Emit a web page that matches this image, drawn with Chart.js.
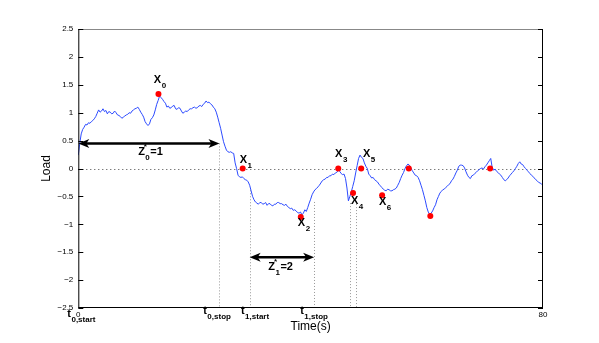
<!DOCTYPE html>
<html>
<head>
<meta charset="utf-8">
<script src="https://cdn.jsdelivr.net/npm/chart.js@4/dist/chart.umd.min.js"></script>
<style>
  html, body { margin: 0; padding: 0; background: #fff; }
  #wrap { width: 599px; height: 343px; }
</style>
</head>
<body>
<div id="wrap"><canvas id="chart" width="599" height="343"></canvas></div>
<script>
// load trace, read every 0.25 s
var times = [];
for (var i = 0; i <= 320; i++) times.push(i * 0.25);
var loads = [
  0.24, 0.45, 0.62, 0.70, 0.74, 0.79, 0.78, 0.82, 0.81, 0.84,
  0.86, 0.89, 0.93, 0.99, 1.05, 1.01, 1.03, 1.07, 1.02, 1.04,
  0.98, 1.02, 1.01, 0.98, 0.99, 1.03, 1.00, 0.96, 0.95, 0.93,
  0.90, 0.92, 0.94, 0.96, 0.97, 1.00, 0.99, 1.03, 1.05, 1.07,
  1.08, 1.10, 1.06, 1.01, 0.97, 0.92, 0.84, 0.80, 0.77, 0.80,
  0.88, 0.91, 0.96, 1.05, 1.15, 1.22, 1.30, 1.27, 1.24, 1.20,
  1.17, 1.10, 1.12, 1.08, 1.09, 1.12, 1.13, 1.07, 1.06, 1.09,
  1.08, 1.03, 0.99, 1.01, 1.03, 1.02, 1.05, 1.07, 1.07, 1.09,
  1.10, 1.08, 1.09, 1.12, 1.13, 1.11, 1.15, 1.17, 1.21, 1.18,
  1.19, 1.16, 1.14, 1.10, 1.07, 1.01, 0.92, 0.82, 0.72, 0.60,
  0.48, 0.40, 0.33, 0.30, 0.29, 0.30, 0.28, 0.27, 0.10, 0.00,
  -0.12, -0.15, -0.16, -0.15, -0.18, -0.20, -0.21, -0.24, -0.30, -0.40,
  -0.50, -0.56, -0.60, -0.62, -0.64, -0.61, -0.61, -0.64, -0.63, -0.61,
  -0.66, -0.63, -0.63, -0.66, -0.67, -0.64, -0.64, -0.61, -0.61, -0.63,
  -0.63, -0.65, -0.66, -0.64, -0.68, -0.70, -0.72, -0.71, -0.75, -0.74,
  -0.76, -0.79, -0.80, -0.78, -0.83, -0.80, -0.74, -0.77, -0.70, -0.62,
  -0.55, -0.47, -0.42, -0.38, -0.36, -0.33, -0.30, -0.26, -0.22, -0.20,
  -0.19, -0.16, -0.16, -0.13, -0.13, -0.10, -0.11, -0.08, -0.07, -0.03,
  -0.05, -0.09, -0.11, -0.10, -0.18, -0.35, -0.58, -0.50, -0.42, -0.32,
  -0.22, -0.08, 0.05, 0.18, 0.24, 0.20, 0.18, 0.10, 0.04, 0.00,
  -0.10, -0.13, -0.17, -0.16, -0.20, -0.22, -0.24, -0.28, -0.31, -0.34,
  -0.37, -0.39, -0.40, -0.37, -0.38, -0.40, -0.40, -0.38, -0.37, -0.35,
  -0.30, -0.25, -0.18, -0.12, -0.07, 0.00, 0.05, 0.08, 0.06, 0.01,
  -0.04, -0.08, -0.12, -0.13, -0.16, -0.22, -0.30, -0.38, -0.48, -0.58,
  -0.70, -0.78, -0.82, -0.80, -0.76, -0.70, -0.65, -0.56, -0.50, -0.44,
  -0.41, -0.38, -0.37, -0.34, -0.32, -0.29, -0.27, -0.22, -0.19, -0.14,
  -0.08, -0.03, 0.04, 0.06, 0.06, 0.05, 0.01, -0.06, -0.12, -0.16,
  -0.18, -0.13, -0.12, -0.09, -0.07, -0.04, -0.02, 0.00, 0.01, -0.01,
  0.03, 0.06, 0.10, 0.14, 0.18, 0.02, -0.03, -0.01, -0.05, -0.07,
  -0.10, -0.12, -0.16, -0.20, -0.22, -0.20, -0.17, -0.13, -0.10, -0.07,
  -0.04, 0.00, 0.04, 0.09, 0.12, 0.08, 0.07, 0.03, 0.00, -0.03,
  -0.06, -0.09, -0.12, -0.14, -0.17, -0.20, -0.22, -0.25, -0.26, -0.28,
  -0.30
];

// red markers and their X labels
var eventTimes = [13.8, 28.3, 38.3, 44.75, 47.3, 48.7, 52.3, 56.9, 60.6, 70.9];
var eventLoads = [1.335, 0, -0.87, 0, -0.44, 0, -0.48, 0, -0.85, 0];
var xLabelSubs = ['0', '1', '2', '3', '4', '5', '6'];
var xLabelT = [13.0, 27.8, 37.8, 44.2, 46.95, 49.0, 51.75];
var xLabelV = [1.53, 0.095, -1.03, 0.20, -0.64, 0.20, -0.66];

// phase boundaries
var phaseSubs = ['0,start', '0,stop', '1,start', '1,stop'];
var phaseTimes = [0, 24.3, 29.5, 40.6];
var phaseTops = [null, 0.45, -0.39, -0.60];
var phaseLabelT = [-1.9, 21.5, 28.0, 38.2];
var extraTimes = [46.8, 47.8];
var extraTops = [-0.62, -0.53];

// double arrows
var arrowFrom = [0, 29.5];
var arrowTo = [24.3, 40.6];
var arrowLoad = [0.45, -1.59];
var arrowSub = ['0', '1'];
var arrowText = ['=1', '=2'];
var arrowLabelT = [10.3, 32.7];
var arrowLabelV = [0.238, -1.82];

var xTickValues = [0, 80];

var FONT = '"Liberation Sans", Arial, sans-serif';

function subText(ctx, x, y, main, sub, sup, tail) {
  ctx.font = 'bold 11px ' + FONT;
  ctx.fillText(main, x, y);
  var w = ctx.measureText(main).width;
  ctx.font = 'bold 8px ' + FONT;
  if (sup) ctx.fillText(sup, x + w - 1, y - 6);
  ctx.fillText(sub, x + w + 0.5, y + 5);
  var w2 = ctx.measureText(sub).width;
  if (tail) {
    ctx.font = 'bold 11px ' + FONT;
    ctx.fillText(tail, x + w + w2 + 1, y);
  }
}

function arrowHead(ctx, x, y, dir) {
  ctx.beginPath();
  ctx.moveTo(x, y);
  ctx.lineTo(x - dir * 11, y - 4.5);
  ctx.lineTo(x - dir * 8, y);
  ctx.lineTo(x - dir * 11, y + 4.5);
  ctx.closePath();
  ctx.fill();
}

var overlay = {
  id: 'overlay',
  beforeDatasetsDraw: function(chart) {
    var ctx = chart.ctx, xs = chart.scales.x, ys = chart.scales.y;
    var a = chart.chartArea;
    ctx.save();
    // zero line
    ctx.strokeStyle = '#444';
    ctx.lineWidth = 1;
    ctx.setLineDash([1, 3]);
    ctx.beginPath();
    ctx.moveTo(a.left, Math.round(ys.getPixelForValue(0)) + 0.5);
    ctx.lineTo(a.right, Math.round(ys.getPixelForValue(0)) + 0.5);
    ctx.stroke();
    // vertical markers
    ctx.strokeStyle = '#999';
    ctx.setLineDash([1, 2]);
    var tops = phaseTops.concat(extraTops);
    var ts = phaseTimes.concat(extraTimes);
    for (var i = 0; i < ts.length; i++) {
      if (tops[i] === null) continue;
      var px = Math.round(xs.getPixelForValue(ts[i])) + 0.5;
      ctx.beginPath();
      ctx.moveTo(px, ys.getPixelForValue(tops[i]));
      ctx.lineTo(px, a.bottom);
      ctx.stroke();
    }
    ctx.restore();
  },
  afterDatasetsDraw: function(chart) {
    var ctx = chart.ctx, xs = chart.scales.x, ys = chart.scales.y;
    var a = chart.chartArea;
    ctx.save();
    // axes box with inward ticks
    ctx.setLineDash([]);
    ctx.lineWidth = 1;
    ctx.strokeStyle = '#888';
    ctx.beginPath();
    ctx.moveTo(a.left, a.top + 0.5);
    ctx.lineTo(a.right, a.top + 0.5);
    ctx.stroke();
    ctx.strokeStyle = '#000';
    ctx.beginPath();
    ctx.moveTo(a.right - 0.5, a.top);
    ctx.lineTo(a.right - 0.5, a.bottom);
    ctx.moveTo(a.left, a.bottom - 0.5);
    ctx.lineTo(a.right, a.bottom - 0.5);
    ctx.moveTo(a.left + 0.5, a.top);
    ctx.lineTo(a.left + 0.5, a.bottom);
    ys.ticks.forEach(function(t) {
      var py = Math.round(ys.getPixelForValue(t.value)) + 0.5;
      ctx.moveTo(a.left, py);
      ctx.lineTo(a.left + 5, py);
      ctx.moveTo(a.right, py);
      ctx.lineTo(a.right - 5, py);
    });
    ctx.stroke();

    // arrows
    ctx.fillStyle = '#000';
    ctx.strokeStyle = '#000';
    ctx.lineWidth = 2.5;
    for (var k = 0; k < arrowFrom.length; k++) {
      var x1 = xs.getPixelForValue(arrowFrom[k]);
      var x2 = xs.getPixelForValue(arrowTo[k]);
      var py = ys.getPixelForValue(arrowLoad[k]);
      ctx.beginPath();
      ctx.moveTo(x1 + 6, py);
      ctx.lineTo(x2 - 6, py);
      ctx.stroke();
      arrowHead(ctx, x1, py, -1);
      arrowHead(ctx, x2, py, 1);
      subText(ctx, xs.getPixelForValue(arrowLabelT[k]), ys.getPixelForValue(arrowLabelV[k]),
        'Z', arrowSub[k], '*', arrowText[k]);
    }

    // X labels
    ctx.textBaseline = 'alphabetic';
    for (var j = 0; j < xLabelSubs.length; j++) {
      subText(ctx, xs.getPixelForValue(xLabelT[j]), ys.getPixelForValue(xLabelV[j]), 'X', xLabelSubs[j]);
    }

    // phase labels under the axis
    for (var p = 0; p < phaseSubs.length; p++) {
      subText(ctx, xs.getPixelForValue(phaseLabelT[p]), a.bottom + (p === 0 ? 9 : 6), 't', phaseSubs[p]);
    }
    ctx.restore();
  }
};

new Chart(document.getElementById('chart'), {
  type: 'scatter',
  data: {
    datasets: [
      {
        data: times.map(function(t, i) { return { x: t, y: loads[i] }; }),
        showLine: true,
        borderColor: 'rgb(45,75,255)',
        borderWidth: 1,
        pointRadius: 0,
        tension: 0,
        order: 2
      },
      {
        data: eventTimes.map(function(t, i) { return { x: t, y: eventLoads[i] }; }),
        backgroundColor: '#f00',
        borderWidth: 0,
        pointRadius: 3,
        order: 1
      }
    ]
  },
  options: {
    responsive: false,
    animation: false,
    events: [],
    layout: { padding: { left: 39, right: 56, top: 29, bottom: 0 } },
    plugins: { legend: { display: false }, tooltip: { enabled: false } },
    scales: {
      x: {
        type: 'linear',
        min: 0,
        max: 80,
        afterBuildTicks: function(scale) {
          scale.ticks = xTickValues.map(function(v) { return { value: v }; });
        },
        afterFit: function(scale) { scale.height = 35; },
        grid: { display: false, drawTicks: false },
        border: { display: false },
        ticks: { autoSkip: false, maxRotation: 0, padding: 2, color: '#000', font: { family: FONT, size: 8 } },
        title: { display: true, text: 'Time(s)', color: '#000', font: { family: FONT, size: 12 }, padding: { top: 0, bottom: 9 } }
      },
      y: {
        min: -2.5,
        max: 2.5,
        afterFit: function(scale) { scale.width = 39.3; },
        grid: { display: false, drawTicks: false },
        border: { display: false },
        ticks: { stepSize: 0.5, padding: 5, color: '#000', font: { family: FONT, size: 8 },
          callback: function(v) { return String(v).replace('-', '\u2212'); } },
        title: { display: true, text: 'Load', color: '#000', font: { family: FONT, size: 12 }, padding: { top: 0, bottom: 0 } }
      }
    }
  },
  plugins: [overlay]
});
</script>
</body>
</html>
